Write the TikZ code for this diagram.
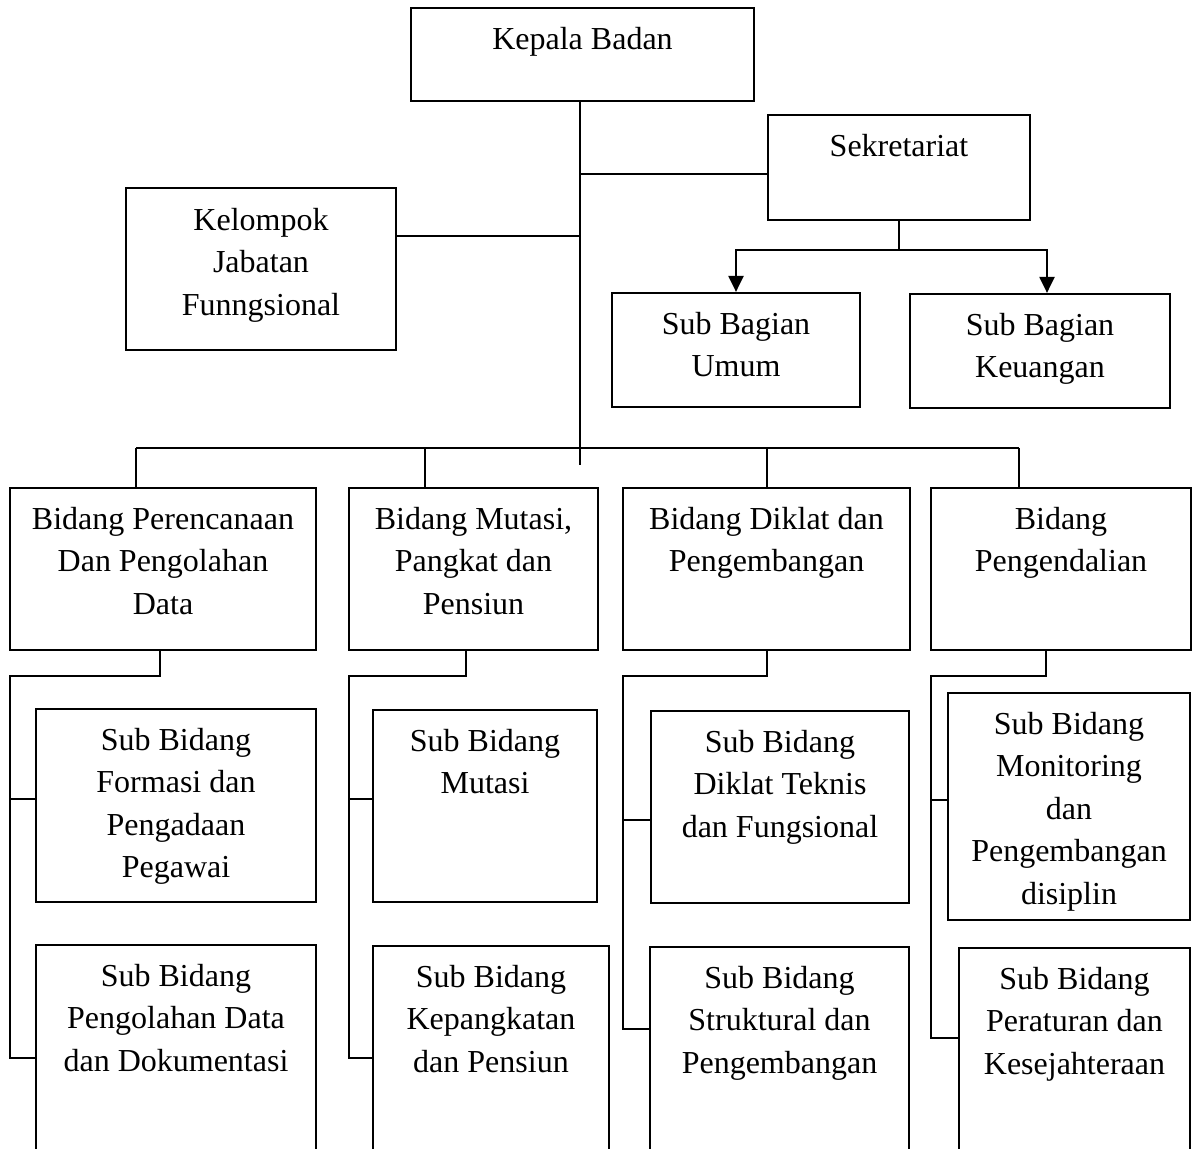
\documentclass[tikz,border=0pt]{standalone}
\usepackage{fontspec}
\setmainfont{Liberation Serif}
\usetikzlibrary{fit,arrows.meta}
\begin{document}
\begin{tikzpicture}[x=0.5pt,y=-0.5pt,
  box/.style={draw, line width=1.1pt, inner sep=0pt},
  txt/.style={inner sep=0pt, align=center, anchor=north, font=\fontsize{16}{21.2}\selectfont},
  ln/.style={line width=1.1pt},
  arr/.style={line width=1.1pt, -{Triangle[width=7.5pt,length=8pt]}}]
\useasboundingbox (0,0) rectangle (1195,1149);
\fill[white] (0,0) rectangle (1195,1149);
\clip (0,0) rectangle (1195,1149);

% boxes
\node[box, fit={(411,8) (754,101)}] (kb) {};
\node[box, fit={(768,115) (1030,220)}] (sek) {};
\node[box, fit={(126,188) (396,350)}] (kjf) {};
\node[box, fit={(612,293) (860,407)}] (sbu) {};
\node[box, fit={(910,294) (1170,408)}] (sbk) {};
\node[box, fit={(10,488) (316,650)}] (b1) {};
\node[box, fit={(349,488) (598,650)}] (b2) {};
\node[box, fit={(623,488) (910,650)}] (b3) {};
\node[box, fit={(931,488) (1191,650)}] (b4) {};
\node[box, fit={(36,709) (316,902)}] (s11) {};
\node[box, fit={(36,945) (316,1160)}] (s12) {};
\node[box, fit={(373,710) (597,902)}] (s21) {};
\node[box, fit={(373,946) (609,1160)}] (s22) {};
\node[box, fit={(651,711) (909,903)}] (s31) {};
\node[box, fit={(650,947) (909,1160)}] (s32) {};
\node[box, fit={(948,693) (1190,920)}] (s41) {};
\node[box, fit={(959,948) (1190,1160)}] (s42) {};

% texts
\node[txt] (kb-t) at ([yshift=-10pt]kb.north) {Kepala Badan};
\node[txt] (sek-t) at ([yshift=-10pt]sek.north) {Sekretariat};
\node[txt] (kjf-t) at ([yshift=-10.5pt]kjf.north) {Kelompok\\Jabatan\\Funngsional};
\node[txt] (sbu-t) at ([yshift=-10pt]sbu.north) {Sub Bagian\\Umum};
\node[txt] (sbk-t) at ([yshift=-10pt]sbk.north) {Sub Bagian\\Keuangan};
\node[txt] (b1-t) at ([yshift=-10pt]b1.north) {Bidang Perencanaan\\Dan Pengolahan\\Data};
\node[txt] (b2-t) at ([yshift=-10pt]b2.north) {Bidang Mutasi,\\Pangkat dan\\Pensiun};
\node[txt] (b3-t) at ([yshift=-10pt]b3.north) {Bidang Diklat dan\\Pengembangan};
\node[txt] (b4-t) at ([yshift=-10pt]b4.north) {Bidang\\Pengendalian};
\node[txt] (s11-t) at ([yshift=-10pt]s11.north) {Sub Bidang\\Formasi dan\\Pengadaan\\Pegawai};
\node[txt] (s12-t) at ([yshift=-10pt]s12.north) {Sub Bidang\\Pengolahan Data\\dan Dokumentasi};
\node[txt] (s21-t) at ([yshift=-10pt]s21.north) {Sub Bidang\\Mutasi};
\node[txt] (s22-t) at ([yshift=-10pt]s22.north) {Sub Bidang\\Kepangkatan\\dan Pensiun};
\node[txt] (s31-t) at ([yshift=-10pt]s31.north) {Sub Bidang\\Diklat Teknis\\dan Fungsional};
\node[txt] (s32-t) at ([yshift=-10pt]s32.north) {Sub Bidang\\Struktural dan\\Pengembangan};
\node[txt] (s41-t) at ([yshift=-10pt]s41.north) {Sub Bidang\\Monitoring\\dan\\Pengembangan\\disiplin};
\node[txt] (s42-t) at ([yshift=-10pt]s42.north) {Sub Bidang\\Peraturan dan\\Kesejahteraan};

% junction coordinates
\coordinate (jsek) at (580,174);
\coordinate (jkjf) at (580,236);
\coordinate (mainend) at (580,465);
\coordinate (sekbus) at (899,250);
\coordinate (kright) at (1047,250);
\coordinate (busL) at (136,448);
\coordinate (bus2) at (425,448);
\coordinate (bus3) at (767,448);
\coordinate (busR) at (1019,448);

% top connectors
\draw[ln] (kb.south -| jsek) -- (mainend);
\draw[ln] (sek.west |- jsek) -- (jsek);
\draw[ln] (kjf.east |- jkjf) -- (jkjf);
\draw[ln] (sek.south) -- (sek.south |- sekbus);
\draw[arr] (sek.south |- sekbus) -| (sbu.north);
\draw[arr] (sek.south |- sekbus) -- (kright) -- (sbk.north -| kright);

% bus to bidang
\draw[ln] (busL) -- (busR);
\draw[ln] (busL) -- (b1.north -| busL);
\draw[ln] (bus2) -- (b2.north -| bus2);
\draw[ln] (bus3) -- (b3.north -| bus3);
\draw[ln] (busR) -- (b4.north -| busR);

% column 1
\coordinate (k1) at (160,676); \coordinate (l1) at (10,676);
\coordinate (a1) at (10,799); \coordinate (z1) at (10,1058);
\draw[ln] (b1.south -| k1) -- (k1) -- (l1) -- (z1) -- (s12.west |- z1);
\draw[ln] (a1) -- (s11.west |- a1);
% column 2
\coordinate (k2) at (466,676); \coordinate (l2) at (349,676);
\coordinate (a2) at (349,799); \coordinate (z2) at (349,1058);
\draw[ln] (b2.south -| k2) -- (k2) -- (l2) -- (z2) -- (s22.west |- z2);
\draw[ln] (a2) -- (s21.west |- a2);
% column 3
\coordinate (k3) at (767,676); \coordinate (l3) at (623,676);
\coordinate (a3) at (623,820); \coordinate (z3) at (623,1029);
\draw[ln] (b3.south -| k3) -- (k3) -- (l3) -- (z3) -- (s32.west |- z3);
\draw[ln] (a3) -- (s31.west |- a3);
% column 4
\coordinate (k4) at (1046,676); \coordinate (l4) at (931,676);
\coordinate (a4) at (931,800); \coordinate (z4) at (931,1038);
\draw[ln] (b4.south -| k4) -- (k4) -- (l4) -- (z4) -- (s42.west |- z4);
\draw[ln] (a4) -- (s41.west |- a4);
\end{tikzpicture}
\end{document}
